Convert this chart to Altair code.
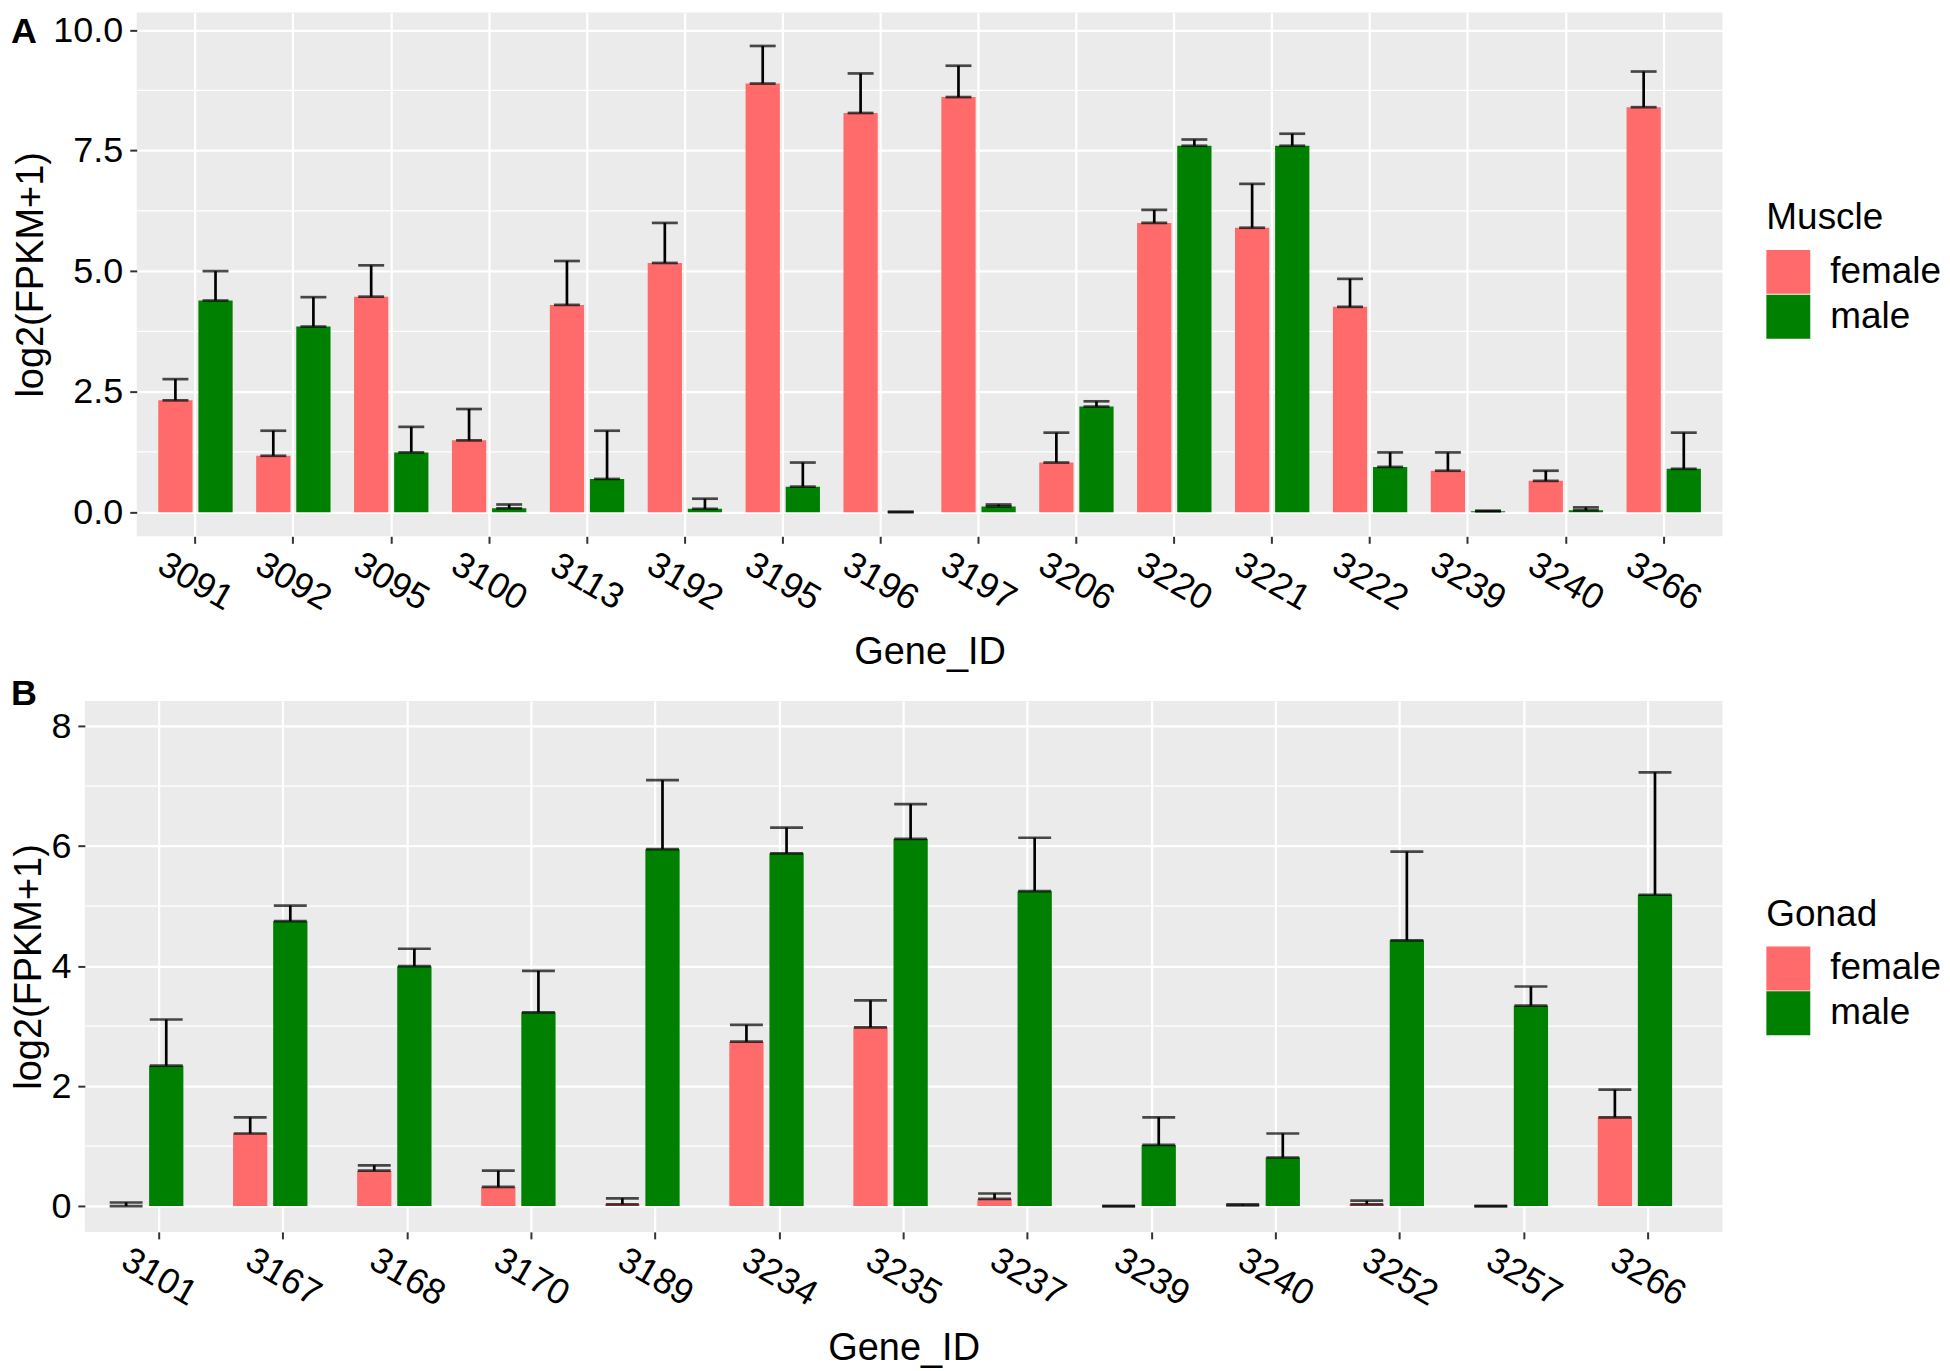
import altair as alt
import pandas as pd

FONT = "Liberation Sans"
sexes = ["female", "male"]
fill_colors = ["#FF6A6A", "#008000"]

# ---- Panel A (Muscle) ----
genes_A = ["3091", "3092", "3095", "3100", "3113", "3192", "3195", "3196",
           "3197", "3206", "3220", "3221", "3222", "3239", "3240", "3266"]
A_female_mean = [2.32, 1.17, 4.47, 1.49, 4.30, 5.17, 8.89, 8.28, 8.61, 1.03, 6.00, 5.90, 4.26, 0.86, 0.65, 8.40]
A_female_upper = [2.76, 1.69, 5.12, 2.14, 5.21, 6.00, 9.67, 9.10, 9.26, 1.65, 6.27, 6.81, 4.84, 1.24, 0.86, 9.14]
A_male_mean = [4.39, 3.85, 1.24, 0.08, 0.69, 0.07, 0.53, 0.00, 0.12, 2.19, 7.60, 7.60, 0.94, 0.02, 0.04, 0.90]
A_male_upper = [5.00, 4.46, 1.77, 0.16, 1.69, 0.28, 1.03, 0.01, 0.16, 2.30, 7.73, 7.85, 1.24, 0.03, 0.10, 1.65]
A_major = [0, 2.5, 5, 7.5, 10]
A_minor = [1.25, 3.75, 6.25, 8.75]

# ---- Panel B (Gonad) ----
genes_B = ["3101", "3167", "3168", "3170", "3189", "3234", "3235", "3237",
           "3239", "3240", "3252", "3257", "3266"]
B_female_mean = [0.00, 1.21, 0.59, 0.32, 0.03, 2.74, 2.98, 0.12, 0.00, 0.01, 0.03, 0.00, 1.48]
B_female_upper = [0.06, 1.48, 0.68, 0.59, 0.13, 3.02, 3.43, 0.21, 0.00, 0.03, 0.09, 0.00, 1.94]
B_male_mean = [2.34, 4.75, 4.00, 3.23, 5.95, 5.88, 6.12, 5.25, 1.02, 0.81, 4.43, 3.34, 5.19]
B_male_upper = [3.11, 5.01, 4.29, 3.92, 7.10, 6.31, 6.70, 6.14, 1.48, 1.21, 5.91, 3.66, 7.23]
B_major = [0, 2, 4, 6, 8]
B_minor = [1, 3, 5, 7]


def long_df(genes, fm, fu, mm, mu):
    rows = []
    for g, a, b, c, d in zip(genes, fm, fu, mm, mu):
        rows.append({"Gene_ID": g, "sex": "female", "mean": a, "upper": b})
        rows.append({"Gene_ID": g, "sex": "male", "mean": c, "upper": d})
    return pd.DataFrame(rows)


def panel(df, genes, legend_title, width, height, ydomain, yticks, yfmt, minor,
          cap, legend_y, letter, letter_x, letter_y):
    xaxis = alt.Axis(title="Gene_ID", labelAngle=30, labelAlign="center",
                     labelBaseline="middle", labelPadding=38, tickSize=7,
                     tickWidth=2, tickColor="#333333", domain=False, grid=True,
                     gridColor="white", gridWidth=2.2, labelFontSize=36,
                     titleFontSize=38, labelColor="black", titleColor="black",
                     titlePadding=17, labelFont=FONT, titleFont=FONT,
                     titleFontWeight="normal")
    yaxis = alt.Axis(title="log2(FPKM+1)", values=yticks, format=yfmt,
                     tickSize=7, tickWidth=2, tickColor="#333333", domain=False,
                     grid=True, gridColor="white", gridWidth=2.2,
                     labelFontSize=36, titleFontSize=38, labelColor="black",
                     titleColor="black", labelPadding=7, titlePadding=2,
                     labelFont=FONT, titleFont=FONT, titleFontWeight="normal")
    X = alt.X("Gene_ID:N", sort=genes,
              scale=alt.Scale(domain=genes, paddingInner=0, paddingOuter=0.1),
              axis=xaxis)
    XO = alt.XOffset("sex:N", scale=alt.Scale(domain=sexes, paddingInner=0.146,
                                              paddingOuter=0.293))
    yscale = alt.Scale(domain=ydomain, nice=False, zero=False)
    color = alt.Color("sex:N", scale=alt.Scale(domain=sexes, range=fill_colors),
                      legend=alt.Legend(title=legend_title, orient="none",
                                        legendX=width + 44, legendY=legend_y,
                                        symbolType="square", symbolSize=1936,
                                        symbolStrokeWidth=0, symbolOpacity=1,
                                        labelFontSize=37, titleFontSize=37,
                                        labelFont=FONT, titleFont=FONT,
                                        titleFontWeight="normal",
                                        labelColor="black", titleColor="black",
                                        labelOffset=20, rowPadding=1,
                                        titlePadding=13, padding=0))
    base = alt.Chart(df)
    minor_grid = alt.Chart(pd.DataFrame({"v": minor})).mark_rule(
        color="white", strokeWidth=1.2).encode(
        y=alt.Y("v:Q", scale=yscale, axis=yaxis))
    bars = base.mark_bar().encode(
        x=X, xOffset=XO, y=alt.Y("mean:Q", scale=yscale, axis=yaxis), color=color)
    stems = base.mark_rule(color="black", strokeWidth=2.7).encode(
        x=X, xOffset=XO, y=alt.Y("mean:Q", scale=yscale, axis=yaxis), y2="upper:Q")
    caps_low = base.mark_tick(color="black", size=cap, thickness=2.7).encode(
        x=X, xOffset=XO, y=alt.Y("mean:Q", scale=yscale, axis=yaxis))
    caps_high = base.mark_tick(color="black", size=cap, thickness=2.7).encode(
        x=X, xOffset=XO, y=alt.Y("upper:Q", scale=yscale, axis=yaxis))
    tag = alt.Chart(pd.DataFrame({"t": [letter]})).mark_text(
        font=FONT, fontSize=36, fontWeight="bold", align="left",
        baseline="alphabetic", color="black").encode(
        text="t:N", x=alt.value(letter_x), y=alt.value(letter_y))
    return alt.layer(minor_grid, bars, stems, caps_low, caps_high, tag).properties(
        width=width, height=height)


dfA = long_df(genes_A, A_female_mean, A_female_upper, A_male_mean, A_male_upper)
dfB = long_df(genes_B, B_female_mean, B_female_upper, B_male_mean, B_male_upper)

chartA = panel(dfA, genes_A, "Muscle", 1589, 525, [-0.5, 10.366], A_major, ".1f",
               A_minor, 26, 188, "A", -126, 31)
chartB = panel(dfB, genes_B, "Gonad", 1641, 532, [-0.43, 8.42], B_major, "d",
               B_minor, 33, 196, "B", -74, 4)

spacer = alt.Chart(pd.DataFrame({"s": [0]})).mark_point(opacity=0).encode(
    x=alt.value(0), y=alt.value(0)).properties(
    width=1, height=525,
    view=alt.ViewBackground(fill="transparent", stroke="transparent"))

rowA = alt.hconcat(spacer, chartA, spacing=51, bounds="flush").resolve_scale(
    color="independent")

chart = alt.vconcat(rowA, chartB, spacing=4).resolve_scale(
    color="independent").properties(
    padding={"left": 2, "top": 0, "right": 0, "bottom": 0},
    background="white").configure_view(fill="#EBEBEB", strokeWidth=0)

chart.save("out.html", embed_options={"renderer": "svg", "actions": False})
